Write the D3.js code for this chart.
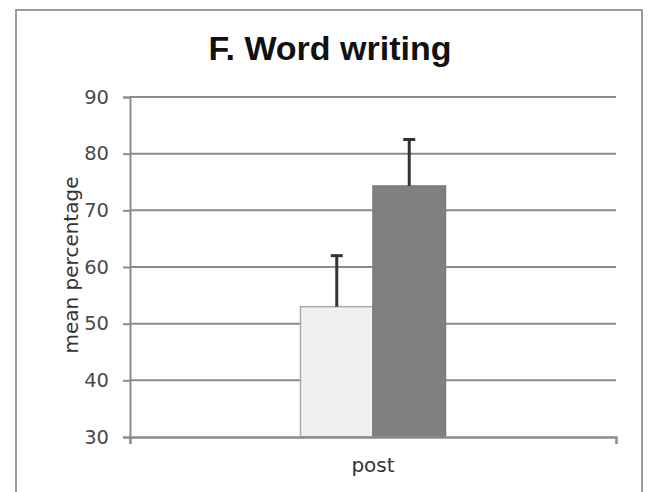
<!DOCTYPE html>
<html><head><meta charset="utf-8">
<script src="https://cdn.jsdelivr.net/npm/d3@7"></script>
<style>html,body{margin:0;padding:0;background:#fff;}svg{display:block;}</style>
</head><body>
<script>
const categories = ["post"];
const groups = ["control", "intervention"];
const means = [53.0, 74.3];
const errors = [9.0, 8.2];
const yTicks = [30, 40, 50, 60, 70, 80, 90];
const title = "F. Word writing";
const yLabel = "mean percentage";

const W = 648, H = 492;
const FONT = "DejaVu Sans, Verdana, sans-serif";
const svg = d3.select("body").append("svg").attr("width", W).attr("height", H);
svg.append("rect").attr("x", 16).attr("y", 10).attr("width", 626).attr("height", 500)
  .attr("fill", "#fff").attr("stroke", "#9a9a9a").attr("stroke-width", 2);

const m = {left: 130, right: 616, top: 97, bottom: 437};
const y = d3.scaleLinear().domain([30, 90]).range([m.bottom, m.top]);
const x0 = d3.scaleBand().domain(categories).range([m.left, m.right]).paddingInner(0).paddingOuter(1.176);
const x1 = d3.scaleBand().domain(groups).range([0, x0.bandwidth()]);
const fills = ["#f0f0f0", "#808080"];
const strokes = ["#aaaaaa", "#7a7a7a"];

// gridlines
svg.append("g").selectAll("line").data(yTicks.slice(1)).join("line")
  .attr("x1", m.left).attr("x2", m.right).attr("y1", d => y(d)).attr("y2", d => y(d))
  .attr("stroke", "#8c8c8c").attr("stroke-width", 2);

// y axis
const yAxis = svg.append("g").attr("transform", `translate(${m.left},0)`)
  .call(d3.axisLeft(y).tickValues(yTicks).tickSize(7).tickPadding(14));
yAxis.select(".domain").attr("stroke", "#8c8c8c").attr("stroke-width", 2);
yAxis.selectAll(".tick line").attr("stroke", "#8c8c8c").attr("stroke-width", 2);
yAxis.selectAll(".tick text").attr("font-family", FONT)
  .attr("font-size", 19.5).attr("fill", "#4a4a4a");

// bars
const data = groups.map((g, i) => ({g, v: means[i], e: errors[i], i}));
const gBars = svg.append("g").attr("transform", `translate(${x0("post")},0)`);
gBars.selectAll("rect").data(data).join("rect")
  .attr("x", d => x1(d.g)).attr("width", x1.bandwidth())
  .attr("y", d => y(d.v)).attr("height", d => y(30) - y(d.v))
  .attr("fill", d => fills[d.i]).attr("stroke", d => strokes[d.i]).attr("stroke-width", 1.5);

// error bars
gBars.selectAll(".err").data(data).join("line").attr("class", "err")
  .attr("x1", d => x1(d.g) + x1.bandwidth() / 2).attr("x2", d => x1(d.g) + x1.bandwidth() / 2)
  .attr("y1", d => y(d.v)).attr("y2", d => y(d.v + d.e))
  .attr("stroke", "#333").attr("stroke-width", 3);
gBars.selectAll(".cap").data(data).join("line").attr("class", "cap")
  .attr("x1", d => x1(d.g) + x1.bandwidth() / 2 - 6).attr("x2", d => x1(d.g) + x1.bandwidth() / 2 + 6)
  .attr("y1", d => y(d.v + d.e)).attr("y2", d => y(d.v + d.e))
  .attr("stroke", "#333").attr("stroke-width", 3);

// x axis
const xAxis = svg.append("g").attr("transform", `translate(0,${m.bottom})`)
  .call(d3.axisBottom(x0).tickSize(0).tickPadding(21).tickSizeOuter(7));
xAxis.select(".domain").attr("stroke", "#8c8c8c").attr("stroke-width", 2.5);
xAxis.selectAll(".tick text").attr("font-family", FONT)
  .attr("font-size", 20).attr("fill", "#333");

// title
svg.append("text").attr("x", 330).attr("y", 60).attr("text-anchor", "middle")
  .attr("font-family", "Liberation Sans, Arial, sans-serif").attr("font-weight", "bold")
  .attr("font-size", 34).attr("fill", "#111").text(title);

// y label
svg.append("text").attr("transform", `translate(78,265) rotate(-90)`)
  .attr("text-anchor", "middle").attr("font-family", FONT)
  .attr("font-size", 20).attr("fill", "#333").text(yLabel);
</script>
</body></html>
